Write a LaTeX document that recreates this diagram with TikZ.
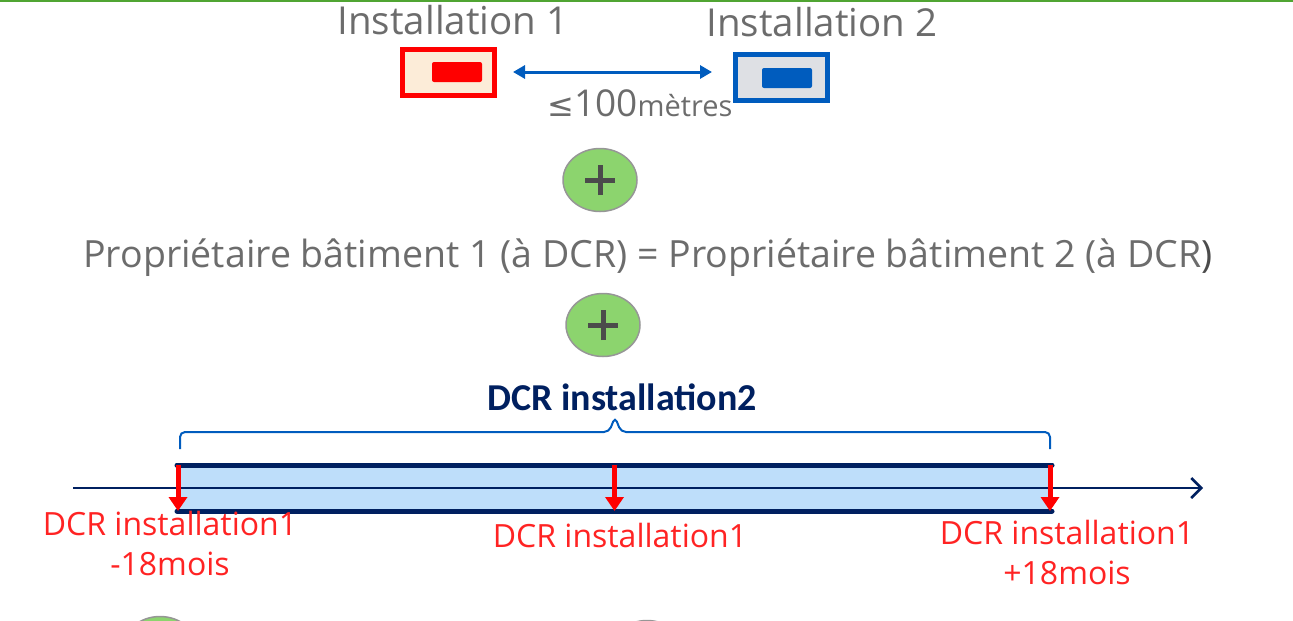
\documentclass[tikz,border=0pt]{standalone}
\usepackage{fontspec}
\setmainfont{Open Sans}
\newfontfamily\calibfont{Carlito}
\newfontfamily\symfont{DejaVu Sans}
\usepackage{tikz}
\usetikzlibrary{
	positioning,
	arrows.meta,
	shapes.geometric
}
\definecolor{txtgray}{RGB}{108,108,108}
\definecolor{topgreen}{RGB}{80,165,50}
\definecolor{plusgreen}{RGB}{140,212,110}
\definecolor{pluslight}{RGB}{150,150,150}
\definecolor{plusdark}{RGB}{75,75,75}
\definecolor{dcrblue}{RGB}{0,92,190}
\definecolor{dcrnavy}{RGB}{0,32,96}
\definecolor{barfill}{RGB}{190,222,250}
\definecolor{beige}{RGB}{252,236,216}
\definecolor{silver}{RGB}{222,224,228}
\definecolor{lblred}{RGB}{255,35,35}

\begin{document}
\begin{tikzpicture}[x=1pt,y=-1pt,
		every node/.style={inner sep=0pt,outer sep=0pt},
		inst/.style={text=txtgray,font=\fontsize{37.5}{42}\selectfont},
		site/.style={rectangle,line width=5pt,minimum width=92pt,minimum height=46pt},
		core/.style={rectangle,rounded corners=2pt,minimum width=50pt,minimum height=20pt},
		plus/.style={ellipse,draw=pluslight,line width=1.5pt,fill=plusgreen,
			minimum width=74pt,minimum height=63pt,
			path picture={\draw[plusdark,line width=5pt]
				([xshift=-15pt]path picture bounding box.center) -- ([xshift=15pt]path picture bounding box.center)
				([yshift=-15pt]path picture bounding box.center) -- ([yshift=15pt]path picture bounding box.center);}},
		redlbl/.style={text=lblred,align=center,font=\fontsize{32}{40}\selectfont},
		redarrow/.style={red,line width=5pt,-{Triangle[length=14pt,width=18pt]}},
		axis/.style={dcrnavy,line width=2.5pt,-{Straight Barb[length=10pt,width=20pt,line width=2.5pt]}}
	]
	\useasboundingbox (0,0) rectangle (1293,621);
	\draw[topgreen,line width=2pt] (0,1) -- (1293,1);

	% the two sites
	\node[inst,font=\fontsize{38.5}{42}\selectfont] (i1) at (453,20) {Installation 1};
	\node[inst,font=\fontsize{38.5}{42}\selectfont] (i2) at (822,22) {Installation 2};
	\node[site,draw=red,fill=beige]      (s1) at (448.5,72.5) {};
	\node[site,draw=dcrblue,fill=silver] (s2) at (781,77)     {};
	\node[core,fill=red]     (c1) at (457,72) {};
	\node[core,fill=dcrblue] (c2) at (787,78) {};
	\coordinate (d0) at (513,72);
	\coordinate (d1) at (712,72);
	\draw[dcrblue,line width=3pt,{Triangle[length=12pt,width=13pt]}-{Triangle[length=12pt,width=13pt]}] (d0) -- (d1);
	\node[text=txtgray] (dist) at (640,103)
		{{\fontsize{32}{36}\symfont\selectfont ≤}{\fontsize{37}{40}\selectfont 100}{\fontsize{29}{32}\selectfont mètres}};

	% conditions
	\node[plus] (p1) at (600,180) {};
	\node[inst] (owner) at (648,258)
		{Propriétaire bâtiment 1 (à DCR) = Propriétaire bâtiment 2 (à DCR\textcolor{plusdark}{)}};
	\node[plus] (p2) at (603,325) {};

	% timeline
	\node[text=dcrnavy,font=\calibfont\bfseries\fontsize{38}{42}\selectfont] (dcr2) at (622,397) {DCR installation2};
	\draw[dcrblue,line width=2pt,rounded corners=5pt]
		(180,449) -- (180,432) -- (609,432) -- (615,417) -- (621,432) -- (1050,432) -- (1050,449);
	\node[fill=barfill,minimum width=875pt,minimum height=46pt] (bar) at (614.5,488) {};
	\coordinate (ax0) at (73,488);
	\coordinate (ax1) at (1203,488);
	\draw[axis] (ax0) -- (ax1);
	\draw[dcrnavy,line width=5pt,line cap=round]
		(bar.north west) -- (bar.north east)
		(bar.south west) -- (bar.south east);
	\draw[redarrow] ([xshift=1pt]bar.north west) -- ([xshift=1pt]bar.south west);
	\draw[redarrow] (bar.north) -- (bar.south);
	\draw[redarrow] ([xshift=-2pt]bar.north east) -- ([xshift=-2pt]bar.south east);
	\node[redlbl] (lm) at (170,543)  {DCR installation1\\-18mois};
	\node[redlbl] (l0) at (620,535)  {DCR installation1};
	\node[redlbl] (lp) at (1067,552) {DCR installation1\\+18mois};

	% cut off by the lower edge
	\node[plus] (p3) at (160,648) {};
	\node[plus] (p4) at (647,652) {};
\end{tikzpicture}
\end{document}
